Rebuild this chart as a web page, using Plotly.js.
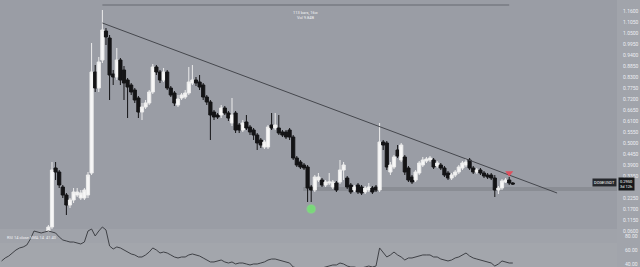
<!DOCTYPE html>
<html>
<head>
<meta charset="utf-8">
<script src="https://cdn.plot.ly/plotly-3.0.1.min.js"></script>
<style>
  html, body { margin: 0; padding: 0; background: #9a9da5; }
  #chart { width: 640px; height: 267px; }
</style>
</head>
<body>
<div id="chart"></div>
<script>
// DOGE/USDT daily candles (bar index 0 = first visible bar)
const openP = [
  .060,.080,.375,.355,.280,.240,.190,.215,.240,.225,
  .225,.240,.350,.855,.775,.915,1.060,1.025,.845,.830,
  .915,.865,.815,.790,.765,.725,.655,.680,.700,.755,
  .880,.855,.815,.855,.775,.750,.690,.725,.730,.750,
  .800,.815,.805,.790,.730,.705,.655,.640,.640,.675,
  .650,.600,.650,.590,.565,.605,.580,.565,.540,.515,
  .480,.480,.590,.575,.575,.555,.555,.565,.530,.425,
  .405,.390,.380,.280,.265,.315,.315,.290,.300,.280,
  .300,.305,.365,.325,.290,.265,.290,.280,.255,.265,
  .275,.280,.265,.505,.500,.355,.380,.465,.415,.430,
  .375,.330,.315,.350,.390,.410,.415,.415,.385,.390,
  .375,.350,.325,.340,.355,.375,.390,.415,.375,.355,
  .365,.350,.340,.340,.325,.265,.275,.305,.315,.300
];
const highP = [
  .090,.405,.405,.365,.290,.250,.225,.275,.275,.265,
  .275,.355,1.000,.890,.930,1.165,1.075,1.040,.865,.975,
  .925,.885,.825,.800,.775,.735,.700,.715,.765,.895,
  .890,.865,.875,.865,.785,.760,.740,.750,.765,.880,
  .890,.830,.840,.800,.740,.715,.665,.650,.690,.685,
  .660,.725,.660,.600,.615,.640,.590,.575,.550,.525,
  .515,.590,.650,.650,.640,.565,.565,.575,.540,.435,
  .415,.400,.390,.290,.340,.350,.325,.315,.350,.315,
  .310,.415,.405,.335,.300,.290,.300,.290,.285,.300,
  .285,.290,.600,.515,.510,.405,.440,.490,.500,.440,
  .385,.340,.365,.410,.430,.430,.435,.425,.410,.400,
  .385,.360,.350,.365,.390,.410,.420,.425,.385,.375,
  .375,.360,.350,.350,.340,.285,.320,.325,.330,.305
];
const lowP = [
  .050,.070,.315,.275,.225,.140,.175,.200,.230,.215,
  .215,.225,.340,.755,.755,.900,.990,.715,.790,.815,
  .790,.715,.625,.740,.700,.625,.615,.670,.690,.745,
  .840,.800,.805,.765,.730,.685,.680,.715,.720,.740,
  .790,.785,.765,.715,.690,.515,.615,.620,.625,.640,
  .610,.585,.550,.550,.555,.565,.540,.515,.465,.475,
  .470,.470,.565,.565,.540,.530,.520,.515,.415,.380,
  .370,.365,.205,.205,.255,.305,.280,.280,.290,.270,
  .255,.295,.315,.270,.245,.255,.245,.240,.245,.255,
  .245,.255,.255,.465,.365,.340,.370,.425,.405,.340,
  .305,.295,.305,.340,.380,.400,.405,.370,.375,.365,
  .330,.315,.315,.330,.345,.365,.380,.365,.345,.345,
  .340,.325,.320,.315,.230,.245,.265,.300,.290,.290
];
const closeP = [
  .080,.365,.355,.290,.240,.190,.215,.255,.255,.250,
  .265,.340,.855,.775,.905,1.065,1.030,.840,.830,.915,
  .815,.800,.780,.755,.715,.655,.680,.700,.755,.880,
  .855,.815,.855,.775,.740,.700,.720,.740,.750,.805,
  .815,.800,.780,.730,.705,.640,.630,.630,.675,.650,
  .625,.640,.565,.565,.600,.575,.555,.540,.500,.490,
  .505,.580,.575,.590,.550,.540,.530,.530,.425,.390,
  .380,.375,.275,.265,.330,.330,.290,.305,.305,.305,
  .265,.365,.390,.280,.255,.280,.255,.250,.275,.280,
  .255,.265,.505,.490,.380,.390,.430,.435,.490,.355,
  .315,.305,.355,.400,.415,.420,.425,.380,.400,.375,
  .340,.325,.340,.355,.380,.400,.405,.375,.355,.365,
  .350,.335,.330,.325,.265,.275,.310,.315,.300,.295
];

// RSI(14), starting 13 bars before the first visible candle
const rsiStart = -13;
const rsiValues = [
  44.3,48.6,51.4,55.7,60,62.9,64.3,67.1,75.7,87.1,
  85.7,84.3,85.7,87.1,85.7,84.3,78.6,74.3,72.9,71.4,
  71.4,70,68.6,71.4,87.1,90,80,87.1,92.9,88.6,
  65.7,61.4,64.3,62.9,60,57.1,54.3,52.9,50,50,
  52.9,57.1,62.9,60,55.7,57.1,55.7,52.9,50,48.6,
  50,50,52.9,54.3,52.9,51.4,48.6,45.7,42.9,42.9,
  44.3,45.7,42.9,41.4,42.9,40,41.4,41.4,40,38.6,
  40,40,41.4,42.9,45.7,47.1,47.1,45.7,44.3,42.9,
  41.4,35.7,34.3,32.9,31.4,30,30,32.9,34.3,34.3,
  35.7,37.1,38.6,38.6,41.4,40,37.1,35.7,35.7,34.3,
  34.3,35.7,37.1,35.7,37.1,62.9,57.1,50,52.9,57.1,
  52.9,50,45.7,48.6,48.6,50,51.4,52.9,52.9,52.9,
  50,50,47.1,45.7,44.3,45.7,48.6,50,52.9,55.7,
  51.4,48.6,47.1,45.7,44.3,42.9,41.4,37.1,40,44.3,
  42.9,41.4,41.4
];

// Price axis labels and RSI axis labels
const priceTicks = [1.16,1.105,1.05,0.995,0.94,0.885,0.83,0.775,0.72,0.665,
                    0.61,0.555,0.5,0.445,0.39,0.335,0.225,0.17,0.115,0.06];
const rsiTicks = [80, 60, 40];

// Drawings: descending trendline, horizontal support, date range
const trendBars = [15, 141.3];
const trendPrices = [1.10, 0.25];
const supportLevel = 0.27;
const supportFromBar = 70.8;
const rangeBars = [15, 128];
const rangeLevel = 1.19;
const rangeText = ['113 bars, 16w', 'Vol 9.84B'];

// Signal markers
const buyBar = [73], buyPrice = [0.17];
const sellBar = [128], sellPrice = [0.35];

const symbol = 'DOGEUSDT';
const lastLabel = ['0.2950', '3d 12h'];
const rsiLabel = 'RSI 14 close SMA 14  41.40';

const bars = openP.map((_, i) => i);
const rsiBars = rsiValues.map((_, i) => rsiStart + i);

const BG = '#9a9da5';
const FONT = 'Roboto, "DejaVu Sans", sans-serif';

const traces = [
  {
    type: 'candlestick',
    x: bars, open: openP, high: highP, low: lowP, close: closeP,
    xaxis: 'x', yaxis: 'y',
    increasing: { line: { color: '#ececec', width: 1 }, fillcolor: '#f7f7f7' },
    decreasing: { line: { color: '#141416', width: 1 }, fillcolor: '#141416' },
    whiskerwidth: 0,
    hoverinfo: 'skip', showlegend: false
  },
  {
    type: 'scatter', mode: 'lines',
    x: trendBars, y: trendPrices, xaxis: 'x', yaxis: 'y',
    line: { color: '#45474d', width: 1 },
    hoverinfo: 'skip', showlegend: false
  },
  {
    type: 'scatter', mode: 'markers',
    x: buyBar, y: buyPrice, xaxis: 'x', yaxis: 'y',
    marker: { color: '#79d879', size: 8, line: { width: 2, color: 'rgba(130,220,130,0.45)' } },
    hoverinfo: 'skip', showlegend: false
  },
  {
    type: 'scatter', mode: 'markers',
    x: sellBar, y: sellPrice, xaxis: 'x', yaxis: 'y',
    marker: { color: '#e0505e', size: 7, symbol: 'triangle-down' },
    hoverinfo: 'skip', showlegend: false
  },
  {
    type: 'scatter', mode: 'lines',
    x: rsiBars, y: rsiValues, xaxis: 'x', yaxis: 'y2',
    line: { color: '#3f4146', width: 1 },
    hoverinfo: 'skip', showlegend: false
  }
];

const axisFont = { family: FONT, size: 5, color: '#eceef2' };

const layout = {
  width: 640, height: 267,
  margin: { l: 0, r: 0, t: 0, b: 0 },
  paper_bgcolor: BG, plot_bgcolor: 'rgba(0,0,0,0)',
  showlegend: false,
  boxgap: 0.12, boxgroupgap: 0,
  font: { family: FONT },
  xaxis: {
    domain: [0, 617 / 640],
    range: [-13.44, 157.94],
    visible: false, showgrid: false, zeroline: false,
    rangeslider: { visible: false }, fixedrange: true
  },
  yaxis: {
    domain: [1 - 232 / 267, 1],
    range: [0.055, 1.215],
    side: 'right', anchor: 'x',
    showgrid: false, zeroline: false, showline: false, ticks: '',
    tickvals: priceTicks,
    ticktext: priceTicks.map(v => v.toFixed(4)),
    tickfont: axisFont,
    ticklabelstandoff: 5
  },
  yaxis2: {
    domain: [0, 45 / 267],
    range: [35.7, 100],
    side: 'right', anchor: 'x',
    showgrid: false, zeroline: false, showline: false, ticks: '',
    tickvals: rsiTicks,
    ticktext: rsiTicks.map(v => v.toFixed(2)),
    tickfont: axisFont,
    ticklabelstandoff: 7
  },
  shapes: [
    // price scale strip
    { type: 'rect', xref: 'paper', yref: 'paper', x0: 617 / 640, x1: 1, y0: 0, y1: 1,
      fillcolor: '#a1a4ab', line: { width: 0 }, layer: 'below' },
    // RSI pane bands
    { type: 'rect', xref: 'paper', yref: 'paper', x0: 0, x1: 617 / 640,
      y0: (267 - 243) / 267, y1: (267 - 229) / 267,
      fillcolor: '#a0a3aa', line: { width: 0 }, layer: 'below' },
    { type: 'rect', xref: 'paper', yref: 'paper', x0: 0, x1: 617 / 640,
      y0: 0, y1: (267 - 243) / 267,
      fillcolor: '#a3a6ac', line: { width: 0 }, layer: 'below' },
    // horizontal support
    { type: 'line', xref: 'x', yref: 'y', x0: supportFromBar, x1: 157.94,
      y0: supportLevel, y1: supportLevel,
      line: { color: '#8a8d94', width: 4 }, layer: 'below' },
    // date range bar
    { type: 'line', xref: 'x', yref: 'y', x0: rangeBars[0], x1: rangeBars[1],
      y0: rangeLevel, y1: rangeLevel,
      line: { color: '#80838b', width: 2 }, layer: 'below' }
  ],
  annotations: [
    { xref: 'x', yref: 'y', x: (rangeBars[0] + rangeBars[1]) / 2, y: rangeLevel,
      yanchor: 'top', yshift: -3, showarrow: false, align: 'center',
      text: rangeText.join('<br>'),
      font: { family: FONT, size: 4, color: '#f0f1f4' } },
    { xref: 'paper', yref: 'paper', x: 5 / 640, y: (267 - 237) / 267,
      xanchor: 'left', yanchor: 'middle', showarrow: false,
      text: rsiLabel, font: { family: FONT, size: 4, color: '#eeeff2' } },
    { xref: 'paper', yref: 'y', x: 617 / 640, y: closeP[closeP.length - 1] + 0.01,
      xanchor: 'right', yanchor: 'middle', showarrow: false,
      text: symbol, bgcolor: '#26282d', borderpad: 1,
      font: { family: FONT, size: 4, color: '#ffffff' } },
    { xref: 'paper', yref: 'y', x: 618 / 640, y: closeP[closeP.length - 1],
      xanchor: 'left', yanchor: 'middle', showarrow: false,
      text: lastLabel.join('<br>'), bgcolor: '#17181b', borderpad: 1,
      font: { family: FONT, size: 4, color: '#ffffff' } }
  ]
};

Plotly.newPlot('chart', traces, layout, { staticPlot: true, displayModeBar: false });
</script>
</body>
</html>
